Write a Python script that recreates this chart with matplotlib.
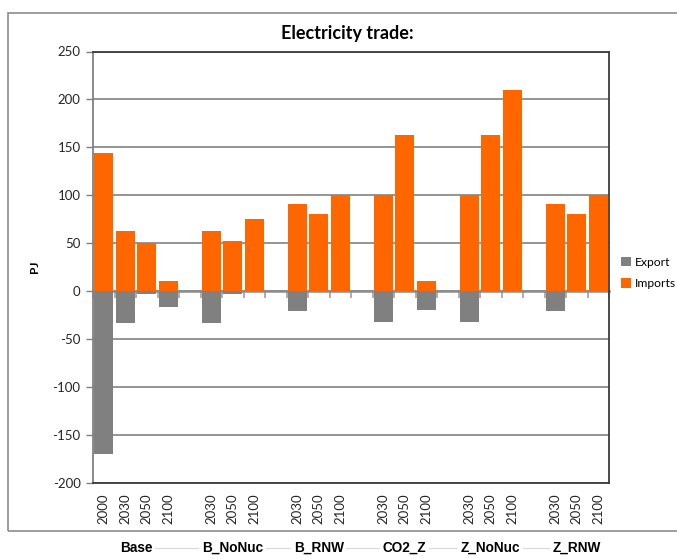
import matplotlib
matplotlib.use("Agg")
import matplotlib.pyplot as plt
from matplotlib.patches import Rectangle, Patch
from matplotlib.lines import Line2D
import numpy as np

# ---- data -------------------------------------------------------------
groups = ["Base", "B_NoNuc", "B_RNW", "CO2_Z", "Z_NoNuc", "Z_RNW"]
group_years = [
    ["2000", "2030", "2050", "2100"],
    ["2030", "2050", "2100"],
    ["2030", "2050", "2100"],
    ["2030", "2050", "2100"],
    ["2030", "2050", "2100"],
    ["2030", "2050", "2100"],
]
imports = [144, 63, 50, 10,
           63, 52, 75,
           91, 80, 100,
           100, 163, 10,
           100, 163, 210,
           91, 80, 100]
exports = [-170, -33, -3, -17,
           -33, -3, 0,
           -21, 0, 0,
           -32, 0, -20,
           -32, 0, 0,
           -21, 0, 0]
y_ticks = [-200, -150, -100, -50, 0, 50, 100, 150, 200, 250]

ORANGE = "#FF6600"
GREY = "#808080"
CAL = ["Lato", "DejaVu Sans"]
NARROW = ["Liberation Sans Narrow", "Liberation Sans", "DejaVu Sans"]

# ---- slot layout: one empty slot between scenario groups ---------------
positions, year_labels, group_centers = [], [], []
slot = 0
for gi, yrs in enumerate(group_years):
    start = slot
    for y in yrs:
        positions.append(slot)
        year_labels.append(y)
        slot += 1
    group_centers.append((start + slot - 1) / 2)
    slot += 1  # gap slot
n_slots = slot - 1
positions = np.array(positions)

fig = plt.figure(figsize=(6.77, 5.59), dpi=100)
ax = fig.add_axes([93 / 677, 1 - 482.5 / 559, (609 - 93) / 677, (482.5 - 51.5) / 559])

ymin, ymax = -200, 250
ax.set_ylim(ymin, ymax)
ax.set_xlim(-0.5, n_slots - 0.5)

ax.set_axisbelow(True)
ax.yaxis.grid(True, color="#8c8c8c", linewidth=1.3)
ax.xaxis.grid(False)

w = 0.88
ax.bar(positions, exports, width=w, color=GREY, zorder=3, label="Export")
ax.bar(positions, imports, width=w, color=ORANGE, zorder=3, label="Imports")

# y axis
ax.set_yticks(y_ticks)
ax.set_yticklabels([str(v) for v in y_ticks], family=CAL, fontsize=9.5, color="#262626")
ax.tick_params(axis="y", direction="out", length=5, width=1, color=GREY, pad=4)
ax.set_ylabel("PJ", family=CAL, fontsize=8.5, fontweight="bold", labelpad=9)

# year labels along the bottom of the plot area
ax.set_xticks(positions)
ax.set_xticklabels(year_labels, rotation=90, family=CAL, fontsize=9.5, color="#262626")
ax.tick_params(axis="x", length=0, pad=8)

for side in ["top", "right", "bottom"]:
    ax.spines[side].set_color("#3c3c3c")
    ax.spines[side].set_linewidth(1.3)
ax.spines["left"].set_color(GREY)
ax.spines["left"].set_linewidth(1.3)

# category axis line at zero with tick marks at slot boundaries
zero_frac = (0 - ymin) / (ymax - ymin)
sec = ax.secondary_xaxis(zero_frac)
sec.set_xticks(np.arange(-0.5, n_slots, 1.0))
sec.tick_params(axis="x", direction="out", length=5, width=1.2, color="#a0a0a0", labelbottom=False)
sec.set_xticklabels([])
sec.spines["bottom"].set_color("#8c8c8c")
sec.spines["bottom"].set_linewidth(1.8)
sec.spines["bottom"].set_zorder(4)

# title
fig.text(347 / 677, 1 - 33 / 559, "Electricity trade:", ha="center", va="center",
         family=CAL, fontsize=13, fontweight="bold", color="black")

# outer chart frame
fig.patches.append(Rectangle((8 / 677, 1 - 530.5 / 559), 1.2, (530.5 - 13) / 559,
                             transform=fig.transFigure, fill=False,
                             edgecolor="#8c8c8c", linewidth=1.2, clip_on=False))

# scenario group labels below the frame, joined by faint rules
label_y = 1 - 548 / 559
to_fig = lambda xd: fig.transFigure.inverted().transform(ax.transData.transform((xd, 0)))[0]
gx = [to_fig(c) for c in group_centers]
fig.lines.append(Line2D([gx[0], gx[-1]], [label_y, label_y], transform=fig.transFigure,
                        color="#d9d9d9", linewidth=0.8, zorder=0))
for g, x in zip(groups, gx):
    fig.text(x, label_y, g, ha="center", va="center", family=NARROW, fontsize=9.8,
             fontweight="bold", color="black",
             bbox=dict(facecolor="white", edgecolor="none", pad=2), zorder=2)

# legend
handles = [Patch(facecolor=GREY, label="Export"), Patch(facecolor=ORANGE, label="Imports")]
fig.legend(handles=handles, loc="upper left", bbox_to_anchor=(616 / 677, 1 - 252 / 559),
           frameon=False, prop={"family": CAL, "size": 8.7}, handlelength=0.8,
           handleheight=0.8, handletextpad=0.4, labelspacing=0.85, borderaxespad=0)

fig.savefig("out.png", dpi=100, facecolor="white")
